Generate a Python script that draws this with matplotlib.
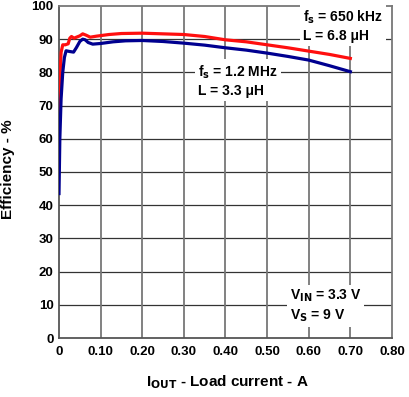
import matplotlib
matplotlib.use('Agg')
import matplotlib.pyplot as plt

plt.rcParams['font.family'] = ['Liberation Sans', 'DejaVu Sans']
plt.rcParams['font.weight'] = 'bold'

# fs = 650 kHz, L = 6.8 uH
i_red = [0.0, 0.002, 0.005, 0.009, 0.015, 0.022, 0.026, 0.03, 0.036, 0.042, 0.05, 0.057, 0.065, 0.075,
         0.09, 0.12, 0.15, 0.2, 0.25, 0.3, 0.35, 0.4, 0.45, 0.5, 0.55, 0.6, 0.65, 0.70]
eff_red = [55.0, 78.0, 86.0, 88.3, 88.3, 88.6, 90.3, 90.8, 90.3, 90.6, 91.0, 91.6, 91.2, 90.6,
           90.9, 91.4, 91.7, 91.8, 91.6, 91.4, 90.8, 89.8, 89.2, 88.3, 87.4, 86.4, 85.4, 84.2]

# fs = 1.2 MHz, L = 3.3 uH
i_blue = [0.0, 0.002, 0.005, 0.009, 0.013, 0.017, 0.025, 0.035, 0.042, 0.05, 0.057, 0.063, 0.07,
          0.081, 0.1, 0.13, 0.16, 0.2, 0.25, 0.3, 0.35, 0.4, 0.45, 0.5, 0.55, 0.6, 0.65, 0.70]
eff_blue = [43.5, 60.0, 72.0, 80.0, 84.5, 86.5, 86.3, 86.1, 87.5, 89.3, 90.0, 89.8, 89.0,
            88.5, 88.7, 89.2, 89.5, 89.6, 89.3, 88.8, 88.2, 87.4, 86.7, 85.8, 84.8, 83.7, 82.0, 80.2]

x_ticks = [0, 0.1, 0.2, 0.3, 0.4, 0.5, 0.6, 0.7, 0.8]
x_labels = ['0', '0.10', '0.20', '0.30', '0.40', '0.50', '0.60', '0.70', '0.80']
y_ticks = list(range(0, 101, 10))

fig = plt.figure(figsize=(4.10, 3.97), dpi=100)
ax = fig.add_axes([0.1439, 0.1486, 0.8121, 0.8364])

for y in y_ticks[1:-1]:
    ax.axhline(y, color='#333333', lw=0.9, zorder=1)
for x in x_ticks[1:-1]:
    ax.axvline(x, color='#777777', lw=1.3, zorder=1)

ax.plot(i_red, eff_red, color='#ff0f0f', lw=2.3, zorder=3)
ax.plot(i_blue, eff_blue, color='#000090', lw=2.3, zorder=3)

ax.set_xlim(0, 0.8)
ax.set_ylim(0, 100)
ax.set_xticks(x_ticks)
ax.set_xticklabels(x_labels)
ax.set_yticks(y_ticks)
ax.tick_params(length=0, labelsize=9.5)
ax.tick_params(axis='y', pad=4)
ax.tick_params(axis='x', pad=6)
for s in ['top', 'right']:
    ax.spines[s].set_color('#777777')
    ax.spines[s].set_linewidth(1.3)
for s in ['left', 'bottom']:
    ax.spines[s].set_color('#555555')
    ax.spines[s].set_linewidth(1.3)

ax.set_xlabel('I$_{\\mathbf{OUT}}$ - Load current - A', fontsize=11, fontweight='bold')
ax.set_ylabel('Efficiency - %', fontsize=11, fontweight='bold')
ax.xaxis.set_label_coords(0.506, -0.105)
ax.yaxis.set_label_coords(-0.132, 0.509)

box = dict(facecolor='white', edgecolor='none', pad=2)
ax.text(0.586, 94.0, 'f$_\\mathbf{s}$ = 650 kHz\nL = 6.8 \u03bcH', fontsize=10, fontweight='bold',
        va='center', ha='left', linespacing=1.3, bbox=box, zorder=4)
ax.text(0.334, 77.4, 'f$_\\mathbf{s}$ = 1.2 MHz\nL = 3.3 \u03bcH', fontsize=10, fontweight='bold',
        va='center', ha='left', linespacing=1.3, bbox=box, zorder=4)
ax.text(0.555, 9.6, 'V$_\\mathbf{IN}$ = 3.3 V\nV$_\\mathbf{S}$ = 9 V', fontsize=10, fontweight='bold',
        va='center', ha='left', linespacing=1.3, bbox=box, zorder=4)

fig.savefig('out.png', dpi=100)
